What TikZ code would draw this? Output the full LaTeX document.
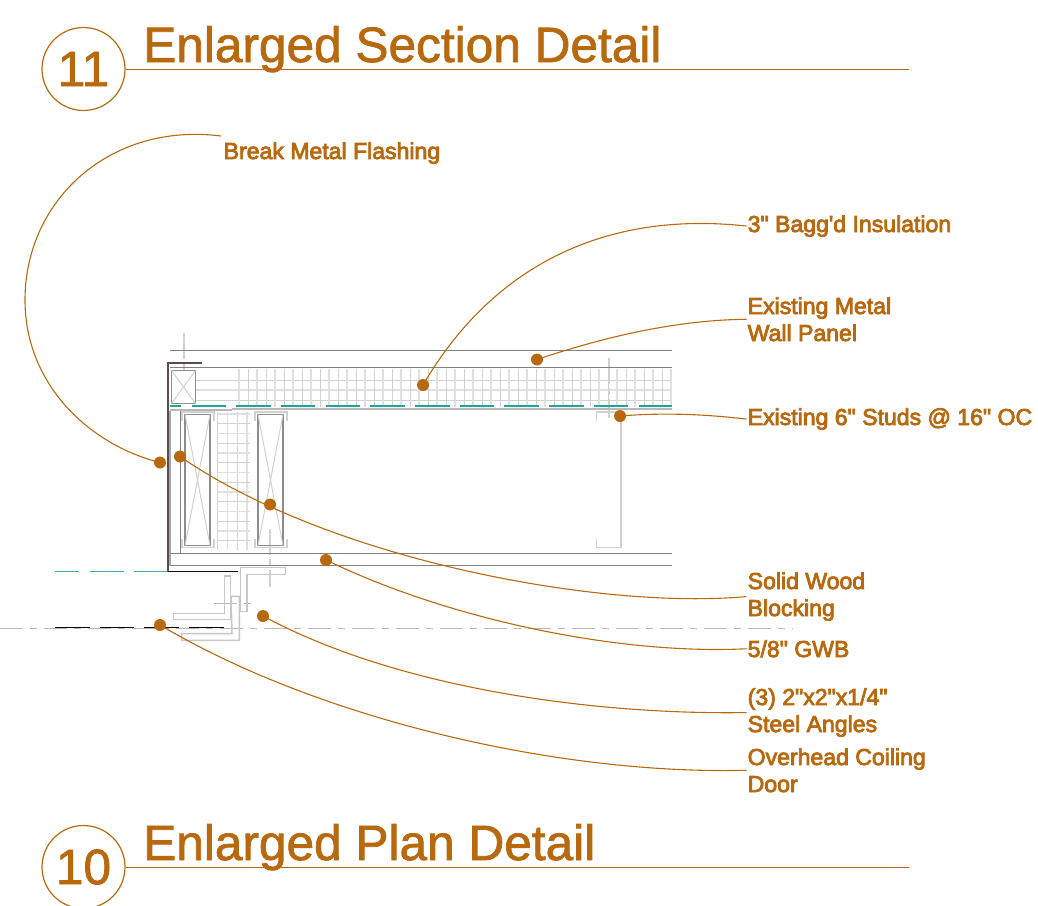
\documentclass[tikz,border=0pt]{standalone}
\usepackage{fontspec}
\setmainfont{Liberation Sans}
\newfontfamily\labelfont[FakeBold=3.5]{Liberation Sans}
\newfontfamily\titlefont[FakeBold=1.5]{Liberation Sans}
\definecolor{ochre}{HTML}{B8690E}
\definecolor{tealx}{HTML}{1FA5A0}
\definecolor{brownx}{HTML}{5E4A4C}
\tikzset{
  lbl/.style={anchor=base west,inner sep=1pt,text=ochre,font=\labelfont\fontsize{23.05}{27}\selectfont,align=left},
  ttl/.style={anchor=base west,inner sep=0pt,text=ochre,font=\titlefont\fontsize{49.6}{49}\selectfont},
  num/.style={circle,draw=ochre,line width=1.2pt,minimum size=83pt,inner sep=0pt,text=ochre,font=\titlefont\fontsize{49.6}{49}\selectfont},
  dot/.style={circle,fill=ochre,minimum size=12pt,inner sep=0pt},
  lead/.style={draw=ochre,line width=1.1pt},
  rule/.style={draw=ochre,line width=1.2pt},
  wall/.style={draw=black!50,line width=1.2pt},
  lgt/.style={draw=black!18,line width=1pt},
  lgtt/.style={draw=black!12,line width=1.8pt},
  block/.style={draw=black!45,line width=1.3pt},
  angl/.style={draw=black!22,line width=1.5pt},
  cen/.style={draw=black!28,line width=1.3pt,dash pattern=on 23pt off 7pt on 7pt off 7pt},
  cenv/.style={draw=black!18,line width=1.8pt,dash pattern=on 26pt off 4pt on 7pt off 4pt},
  tdash/.style={draw=tealx,line width=1.2pt,dash pattern=on 34.5pt off 10.2pt},
  kdash/.style={draw=black!90!red,line width=1.5pt,dash pattern=on 34.5pt off 10.2pt},
}
\begin{document}
\begin{tikzpicture}[x=1pt,y=-1pt]
\useasboundingbox (0,0) rectangle (1038,905);
% titles
\node[num] (c11) at (83.5,69) {11};
\node[num] (c10) at (83.5,867) {10};
\coordinate (r11) at (909,69.5);
\coordinate (r10) at (909,867.5);
\draw[rule] (c11.east |- r11) -- (r11);
\draw[rule] (c10.east |- r10) -- (r10);
\node[ttl] (t11) at (143,62) {Enlarged Section Detail};
\node[ttl] (t10) at (143,860) {Enlarged Plan Detail};
% centre lines
\draw[cen] (0,628.5) -- (793,628.5);
\draw[cenv] (184,333) -- (184,372);
\draw[cenv] (609,358) -- (609,418);
\draw[cenv] (270,529) -- (270,587);
\draw[cen,line width=1pt] (214,603.3) -- (253,603.3);
% insulation, top
\foreach \y in {380.7,400} \draw[lgt] (195,\y) -- (672,\y);
\draw[lgtt] (195,390) -- (672,390);
\foreach \i in {0,...,24}{
  \pgfmathsetmacro{\xa}{239+\i*18}
  \pgfmathsetmacro{\xb}{248+\i*18}
  \ifdim\xa pt<672pt \draw[lgtt] (\xa,369) -- (\xa,407); \fi
  \ifdim\xb pt<672pt \draw[lgt] (\xb,369) -- (\xb,407); \fi
}
% insulation, between blocks
\foreach \x in {217.5,237} \draw[lgt] (\x,412) -- (\x,550);
\foreach \x in {227.5,247} \draw[lgtt] (\x,412) -- (\x,550);
\foreach \i in {0,...,13}{
  \pgfmathsetmacro{\yy}{414+\i*9.75}
  \ifodd\i \draw[lgt] (217,\yy) -- (250,\yy); \else \draw[lgtt] (217,\yy) -- (250,\yy); \fi
}
% wall lines
\draw[wall] (170,350.5) -- (672,350.5);
\draw[wall] (170,367.7) -- (672,367.7);
\draw[draw=black!28,line width=2pt] (232,409) -- (672,409);
\draw[draw=black!28,line width=1.6pt] (170,410) -- (232,410);
\draw[wall] (170,553.3) -- (672,553.3);
\draw[wall] (170,565.7) -- (672,565.7);
\draw[draw=black!35,line width=2pt] (170,411) -- (170,566);
\draw[wall,line width=1pt] (180.7,411) -- (180.7,553);
% corner blocking
\draw[block] (171.5,370.5) rectangle (195.5,403.5);
\draw[lgt] (171.5,370.5) -- (195.5,403.5) (195.5,370.5) -- (171.5,403.5);
% wood blocks
\foreach \xl in {185,258}{
  \draw[block,line width=1.7pt] (\xl,414.5) rectangle ({\xl+25},545.5);
  \draw[lgt] (\xl,414.5) -- ({\xl+25},545.5) ({\xl+25},414.5) -- (\xl,545.5);
  \draw[lgt,line width=1.4pt] ({\xl-3},421) -- ({\xl-3},412) -- ({\xl+29},412) -- ({\xl+29},421);
  \draw[lgt,line width=1.4pt] ({\xl-3},539) -- ({\xl-3},547.5) -- ({\xl+29},547.5) -- ({\xl+29},539);
}
% right stud
\draw[lgt,line width=1.4pt] (596.7,421) -- (596.7,412) -- (621,412) -- (621,547.3) -- (596.7,547.3) -- (596.7,539);
% teal dashes
\draw[tealx,line width=1.2pt] (170,406) -- (181,406);
\draw[tdash] (191.5,406) -- (672,406);
\draw[tealx!85!white,line width=1pt,dash pattern=on 34pt off 10.5pt,dash phase=10pt] (55,571) -- (167,571);
% steel closure
\draw[draw=brownx,line width=1.8pt] (202,363) -- (167.7,363) -- (167.7,572);
\draw[draw=black!85!red,line width=1.2pt] (167.7,571.8) -- (238,571.8);
% steel angles
\draw[angl] (224.3,576) -- (230.3,576) -- (230.3,619.3) -- (173.3,619.3) -- (173.3,613.3) -- (224.3,613.3) -- cycle;
\draw[angl] (231,596.3) -- (239.3,596.3) -- (239.3,640.3) -- (181.7,640.3) -- (181.7,633.7) -- (232,633.7) -- cycle;
\draw[angl] (240.7,567.3) -- (285.3,567.3) -- (285.3,574.3) -- (247,574.3) -- (247,611.7) -- (240.7,611.7) -- cycle;
% door
\draw[kdash] (55,627.7) -- (224,627.7);
% dots
\node[dot] (dFlash) at (160,462.5) {};
\node[dot] (dBagg) at (423,385) {};
\node[dot] (dPanel) at (537,359.5) {};
\node[dot] (dStud) at (620,416) {};
\node[dot] (dWood) at (180,456.5) {};
\node[dot] (dWoodB) at (270,504.5) {};
\node[dot] (dGWB) at (326,560) {};
\node[dot] (dAngle) at (263,616) {};
\node[dot] (dDoor) at (160,625) {};
% labels (anchor base = last line of the node)
\node[lbl] (lFlash) at (222.5,159) {Break Metal Flashing};
\node[lbl] (lBagg) at (746.5,232) {3" Bagg'd Insulation};
\node[lbl] (lPanel) at (746.5,341) {Existing Metal\\Wall Panel};
\node[lbl] (lStud) at (746.5,425) {Existing 6" Studs @ 16" OC};
\node[lbl] (lWood) at (746.5,616) {Solid Wood\\Blocking};
\node[lbl] (lGWB) at (746.5,657) {5/8" GWB};
\node[lbl] (lAngle) at (746.5,732) {(3) 2"x2"x1/4"\\Steel Angles};
\node[lbl] (lDoor) at (746.5,792) {Overhead Coiling\\Door};
\coordinate (fEnd) at (221,136);
% leaders
\draw[lead] (fEnd) .. controls (110,122) and (25,200) .. (25,300) .. controls (25,385) and (90,445) .. (dFlash.center);
\draw[lead] (dBagg.center) .. controls (490,270) and (600,210) .. (lBagg.west);
\draw[lead] (dPanel.center) .. controls (610,335) and (680,320) .. (lPanel.west);
\draw[lead] (dStud.center) .. controls (670,412) and (710,415) .. (lStud.west);
\draw[lead] (dWood.center) .. controls (330,560) and (600,610) .. (lWood.west);
\draw[lead] (dGWB.center) .. controls (450,620) and (620,655) .. (lGWB.west);
\draw[lead] (dAngle.center) .. controls (400,690) and (600,715) .. (lAngle.west);
\draw[lead] (dDoor.center) .. controls (320,720) and (560,775) .. (lDoor.west);
\end{tikzpicture}
\end{document}
